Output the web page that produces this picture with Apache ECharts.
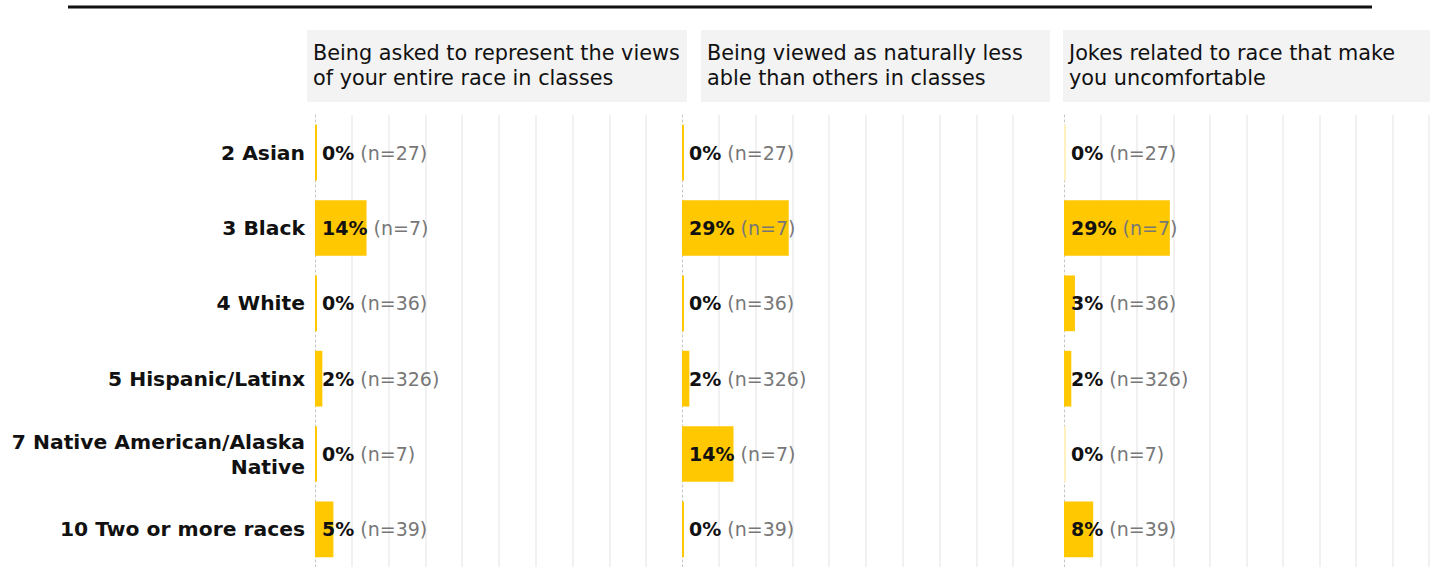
<!DOCTYPE html>
<html>
<head>
<meta charset="utf-8">
<script src="https://cdn.jsdelivr.net/npm/echarts@6/dist/echarts.min.js"></script>
<style>
  html, body { margin: 0; padding: 0; background: #fff; }
  #chart { width: 1432px; height: 567px; }
</style>
</head>
<body>
<div id="chart"></div>
<script>
// categories (row labels)
var groups = ['2 Asian', '3 Black', '4 White', '5 Hispanic/Latinx', '7 Native American/Alaska\nNative', '10 Two or more races'];
// sample size per group
var counts = [27, 7, 36, 326, 7, 39];
// panel headers
var questions = [
    'Being asked to represent the views\nof your entire race in classes',
    'Being viewed as naturally less\nable than others in classes',
    'Jokes related to race that make\nyou uncomfortable'
];
// percentages per panel
var represent = [0, 14, 0, 2, 0, 5];
var lessAble = [0, 29, 0, 2, 14, 0];
var jokes = [0, 29, 3, 2, 0, 8];
var panels = [represent, lessAble, jokes];

var FONT = 'DejaVu Sans';
var YELLOW = '#ffc800';

// panel placement (pixels)
var gridLeft = [315, 682, 1064];
var gridWidth = [368, 368, 365];
var headLeft = [307, 701, 1063];
var headWidth = [380, 349, 367];

var chart = echarts.init(document.getElementById('chart'), null, { renderer: 'svg' });

var grids = [], xAxes = [], yAxes = [], series = [], titles = [];
panels.forEach(function (vals, i) {
    grids.push({ left: gridLeft[i], width: gridWidth[i], top: 115, bottom: 0 });
    xAxes.push({
        gridIndex: i, type: 'value', min: 0, max: 100, interval: 10,
        axisLabel: { show: false }, axisLine: { show: false }, axisTick: { show: false },
        splitLine: {
            show: true, showMinLine: false, showMaxLine: i === 2,
            lineStyle: { color: '#ececec', width: 1.5 }
        }
    });
    yAxes.push({
        gridIndex: i, type: 'category', data: groups, inverse: true,
        axisTick: { show: false },
        axisLine: { show: true, lineStyle: { color: '#c4c4c4', width: 1, type: [2, 3] } },
        axisLabel: {
            show: i === 0, margin: 10, fontFamily: FONT, fontSize: 20.3, fontWeight: 'bold',
            color: '#111', lineHeight: 25, align: 'right'
        }
    });
    series.push({
        type: 'bar', xAxisIndex: i, yAxisIndex: i,
        barWidth: '74%', barMinHeight: 2,
        data: vals.map(function (v) {
            // the third panel shows its 0% bars only faintly
            return { value: v, itemStyle: { color: (i === 2 && v === 0) ? '#fff0bf' : YELLOW } };
        }),
        label: {
            show: true, position: [7, '50%'], align: 'left', verticalAlign: 'middle',
            formatter: function (p) {
                return '{b|' + p.value + '%} {n|(n=' + counts[p.dataIndex] + ')}';
            },
            fontFamily: FONT, fontSize: 19,
            rich: {
                b: { fontFamily: FONT, fontSize: 19, fontWeight: 'bold', color: '#111' },
                n: { fontFamily: FONT, fontSize: 19, color: '#777' }
            }
        }
    });
    titles.push({
        text: questions[i], left: headLeft[i], top: 30,
        backgroundColor: '#f3f3f3', padding: [10, 4, 12, 6],
        textStyle: {
            fontFamily: FONT, fontSize: 20.8, fontWeight: 'normal', color: '#111',
            lineHeight: 25, width: headWidth[i] - 10
        }
    });
});

chart.setOption({
    animation: false,
    title: titles,
    grid: grids,
    xAxis: xAxes,
    yAxis: yAxes,
    series: series,
    graphic: [{
        type: 'line', shape: { x1: 68, y1: 7, x2: 1372, y2: 7 },
        style: { stroke: '#111', lineWidth: 3 }
    }]
});
</script>
</body>
</html>
